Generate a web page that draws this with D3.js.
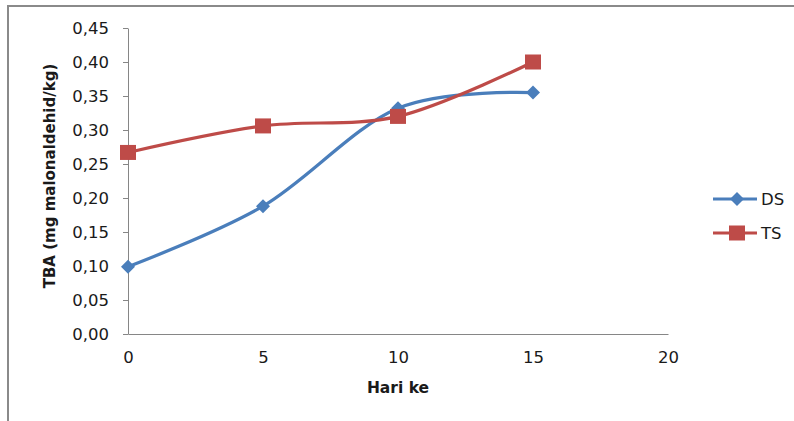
<!DOCTYPE html>
<html><head><meta charset="utf-8">
<script src="https://cdn.jsdelivr.net/npm/d3@7"></script>
<style>body{margin:0;background:#fff}svg{display:block}</style>
</head><body>
<svg id="c" width="794" height="421"></svg>
<script>
const days = [0, 5, 10, 15];
const dsValues = [0.099, 0.188, 0.332, 0.355];
const tsValues = [0.267, 0.306, 0.320, 0.400];
const xTicks = [0, 5, 10, 15, 20];
const yTicks = [0, 0.05, 0.10, 0.15, 0.20, 0.25, 0.30, 0.35, 0.40, 0.45];
const seriesNames = ["DS", "TS"];
const seriesColors = ["#4A7EBB", "#BE4B48"];

const svg = d3.select("#c");
const font = "'DejaVu Sans', Verdana, sans-serif";

// outer chart border
svg.append("path").attr("d", "M8,430 L8,6 L800,6")
  .attr("fill", "none").attr("stroke", "#8a8a8a").attr("stroke-width", 2);

const x = d3.scaleLinear().domain([0, 20]).range([128, 668]);
const y = d3.scaleLinear().domain([0, 0.45]).range([334, 28]);

const fmt = d => d3.format(".2f")(d).replace(".", ",");

// y axis
const ya = svg.append("g").attr("transform", "translate(128,0)")
  .call(d3.axisLeft(y).tickValues(yTicks).tickFormat(fmt).tickSize(5).tickPadding(14).tickSizeOuter(0));
ya.select(".domain").attr("stroke", "#868686");
ya.selectAll(".tick line").attr("stroke", "#868686");
ya.selectAll("text").attr("font-family", font).attr("font-size", "16.5px").attr("fill", "#1a1a1a");

// x axis
const xa = svg.append("g").attr("transform", "translate(0,334)")
  .call(d3.axisBottom(x).tickValues(xTicks).tickSize(0).tickPadding(17).tickSizeOuter(0));
xa.select(".domain").attr("stroke", "#868686");
xa.selectAll("text").attr("font-family", font).attr("font-size", "16.5px").attr("fill", "#1a1a1a");

// axis titles
svg.append("text").attr("transform", "translate(55,176) rotate(-90)")
  .attr("text-anchor", "middle").attr("font-family", font).attr("font-weight", "bold")
  .attr("font-size", "15px").attr("fill", "#1a1a1a").text("TBA (mg malonaldehid/kg)");
svg.append("text").attr("x", 398).attr("y", 393)
  .attr("text-anchor", "middle").attr("font-family", font).attr("font-weight", "bold")
  .attr("font-size", "15.5px").attr("fill", "#1a1a1a").text("Hari ke");

const line = d3.line().x(d => x(d[0])).y(d => y(d[1])).curve(d3.curveCardinal.tension(0));

const dsData = days.map((d, i) => [d, dsValues[i]]);
const tsData = days.map((d, i) => [d, tsValues[i]]);

svg.append("path").datum(dsData).attr("d", line).attr("fill", "none")
  .attr("stroke", seriesColors[0]).attr("stroke-width", 3.2);
svg.append("path").datum(tsData).attr("d", line).attr("fill", "none")
  .attr("stroke", seriesColors[1]).attr("stroke-width", 3.2);

const diamond = d3.symbol().type(d3.symbolSquare).size(98);
svg.selectAll(".ds").data(dsData).enter().append("path")
  .attr("d", diamond)
  .attr("transform", d => `translate(${x(d[0])},${y(d[1])}) rotate(45)`)
  .attr("fill", seriesColors[0]);

svg.selectAll(".ts").data(tsData).enter().append("rect")
  .attr("x", d => x(d[0]) - 8).attr("y", d => y(d[1]) - 7.5)
  .attr("width", 16).attr("height", 15)
  .attr("fill", seriesColors[1]);

// legend
const lg = [199, 233];
seriesNames.forEach((n, i) => {
  const g = svg.append("g");
  g.append("line").attr("x1", 713).attr("x2", 757).attr("y1", lg[i]).attr("y2", lg[i])
    .attr("stroke", seriesColors[i]).attr("stroke-width", 3.2);
  if (i === 0) {
    g.append("path").attr("d", diamond).attr("transform", `translate(737,${lg[i]}) rotate(45)`)
      .attr("fill", seriesColors[i]);
  } else {
    g.append("rect").attr("x", 729).attr("y", lg[i] - 7.5).attr("width", 16).attr("height", 15)
      .attr("fill", seriesColors[i]);
  }
  g.append("text").attr("x", 761).attr("y", lg[i] + 6).attr("font-family", font)
    .attr("font-size", "16.5px").attr("fill", "#1a1a1a").text(n);
});
</script>
</body></html>
